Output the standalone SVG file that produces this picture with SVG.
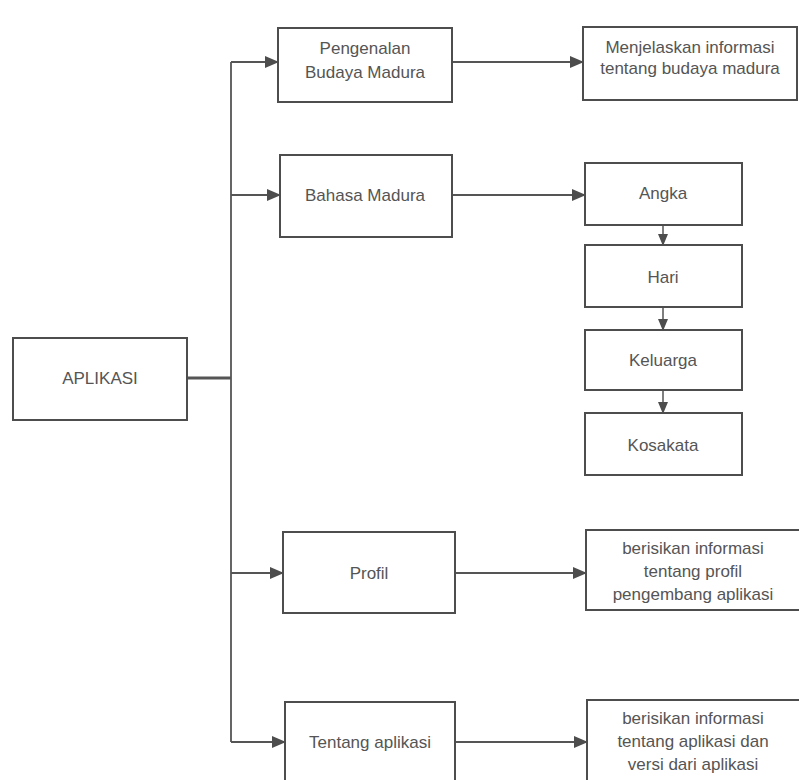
<svg xmlns="http://www.w3.org/2000/svg" width="799" height="780" viewBox="0 0 799 780">
  <style>
    .box { fill: #ffffff; stroke: #4d4d4d; stroke-width: 2; }
    .lbl { font-family: "Liberation Sans", Arial, sans-serif; font-size: 17px; fill: #555555; text-anchor: middle; }
    .ln { fill: none; stroke: #555555; stroke-width: 1.8; }
    .arr { fill: none; stroke: #555555; stroke-width: 1.8; marker-end: url(#head); }
    .arrs { fill: none; stroke: #555555; stroke-width: 1.5; marker-end: url(#headS); }
  </style>
  <defs>
    <marker id="head" markerUnits="userSpaceOnUse" markerWidth="14" markerHeight="12" refX="13" refY="6" orient="auto">
      <path d="M0,0 L14,6 L0,12 Z" fill="#4d4d4d"/>
    </marker>
    <marker id="headS" markerUnits="userSpaceOnUse" markerWidth="12" markerHeight="10" refX="11" refY="5" orient="auto">
      <path d="M0,0 L12,5 L0,10 Z" fill="#4d4d4d"/>
    </marker>
  </defs>
  <rect width="799" height="780" fill="#ffffff"/>

  <g id="connectors">
    <!-- trunk from the root box -->
    <line class="ln" x1="187" y1="378" x2="231" y2="378" style="stroke-width:3"/>
    <line class="ln" x1="231" y1="62" x2="231" y2="742"/>
    <!-- branches to the menu items -->
    <line class="arr" x1="231" y1="62" x2="278" y2="62"/>
    <line class="arr" x1="231" y1="195" x2="280" y2="195"/>
    <line class="arr" x1="231" y1="573" x2="283" y2="573"/>
    <line class="arr" x1="231" y1="742" x2="285" y2="742"/>
    <!-- items to their detail boxes -->
    <line class="arr" x1="452" y1="62" x2="583" y2="62"/>
    <line class="arr" x1="452" y1="195" x2="585" y2="195"/>
    <line class="arr" x1="455" y1="573" x2="586" y2="573"/>
    <line class="arr" x1="455" y1="742" x2="587" y2="742"/>
    <!-- chain of language topics -->
    <line class="arrs" x1="663" y1="225" x2="663" y2="245"/>
    <line class="arrs" x1="663" y1="307" x2="663" y2="330"/>
    <line class="arrs" x1="663" y1="390" x2="663" y2="413"/>
  </g>

  <g id="aplikasi">
    <rect class="box" x="13" y="338" width="174" height="82"/>
    <text class="lbl" x="100" y="384">APLIKASI</text>
  </g>

  <g id="pengenalan">
    <rect class="box" x="278" y="28" width="174" height="74"/>
    <text class="lbl" x="365" y="54">Pengenalan</text>
    <text class="lbl" x="365" y="78">Budaya Madura</text>
  </g>

  <g id="budaya-info">
    <rect class="box" x="583" y="27" width="214" height="73"/>
    <text class="lbl" x="690" y="53">Menjelaskan informasi</text>
    <text class="lbl" x="690" y="74">tentang budaya madura</text>
  </g>

  <g id="bahasa">
    <rect class="box" x="280" y="155" width="172" height="82"/>
    <text class="lbl" x="365" y="201">Bahasa Madura</text>
  </g>

  <g id="angka">
    <rect class="box" x="585" y="163" width="157" height="62"/>
    <text class="lbl" x="663" y="199">Angka</text>
  </g>

  <g id="hari">
    <rect class="box" x="585" y="245" width="157" height="62"/>
    <text class="lbl" x="663" y="283">Hari</text>
  </g>

  <g id="keluarga">
    <rect class="box" x="585" y="330" width="157" height="60"/>
    <text class="lbl" x="663" y="366">Keluarga</text>
  </g>

  <g id="kosakata">
    <rect class="box" x="585" y="413" width="157" height="62"/>
    <text class="lbl" x="663" y="451">Kosakata</text>
  </g>

  <g id="profil">
    <rect class="box" x="283" y="532" width="172" height="81"/>
    <text class="lbl" x="369" y="579">Profil</text>
  </g>

  <g id="profil-info">
    <rect class="box" x="586" y="530" width="220" height="80"/>
    <text class="lbl" x="693" y="554">berisikan informasi</text>
    <text class="lbl" x="693" y="577">tentang profil</text>
    <text class="lbl" x="693" y="600">pengembang aplikasi</text>
  </g>

  <g id="tentang">
    <rect class="box" x="285" y="702" width="170" height="90"/>
    <text class="lbl" x="370" y="748">Tentang aplikasi</text>
  </g>

  <g id="tentang-info">
    <rect class="box" x="587" y="700" width="220" height="90"/>
    <text class="lbl" x="693" y="724">berisikan informasi</text>
    <text class="lbl" x="693" y="747">tentang aplikasi dan</text>
    <text class="lbl" x="693" y="770">versi dari aplikasi</text>
  </g>
</svg>
